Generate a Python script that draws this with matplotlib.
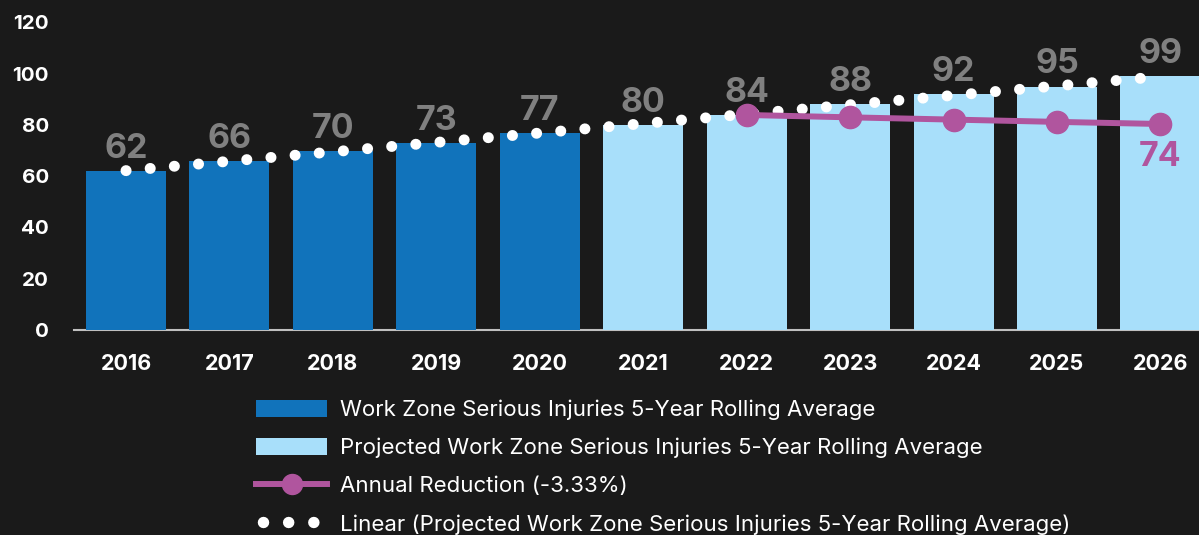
#!/usr/bin/env python3
"""Work zone serious injuries: 5-year rolling average with projection and reduction target."""

import matplotlib
matplotlib.use("Agg")
import matplotlib.pyplot as plt
from matplotlib.lines import Line2D
from matplotlib.patches import Patch
import numpy as np

plt.rcParams["font.family"] = ["Inter", "DejaVu Sans"]

years = ["2016", "2017", "2018", "2019", "2020", "2021", "2022", "2023", "2024", "2025", "2026"]
rolling_avg = [62, 66, 70, 73, 77, 80, 84, 88, 92, 95, 99]
n_actual = 5  # 2016-2020 observed, rest projected

reduction_years = ["2022", "2023", "2024", "2025", "2026"]
reduction_values = [84.4, 81.6, 78.9, 76.2, 73.7]  # -3.33% per year

legend_labels = [
    "Work Zone Serious Injuries 5-Year Rolling Average",
    "Projected Work Zone Serious Injuries 5-Year Rolling Average",
    "Annual Reduction (-3.33%)",
    "Linear (Projected Work Zone Serious Injuries 5-Year Rolling Average)",
]

BG = "#1a1a1a"
COLORS = {
    "actual": "#1173bb",
    "projected": "#a8dffa",
    "reduction": "#b0559e",
    "trend": "#ffffff",
    "value_label": "#808080",
    "axis": "#c0c0c0",
}
DOTS = (0.01, 2.2)  # round-capped dash pattern -> row of dots


def main():
    fig = plt.figure(figsize=(11.99, 5.35), dpi=100, facecolor=BG)
    ax = fig.add_axes([0.0617, 0.3832, 0.9383, 0.5748])
    ax.set_facecolor(BG)

    x = np.arange(len(years))
    bar_colors = [COLORS["actual"] if i < n_actual else COLORS["projected"] for i in x]
    ax.bar(x, rolling_avg, width=0.773, color=bar_colors, zorder=2)

    for xi, v in zip(x, rolling_avg):
        ax.annotate(f"{v}", (xi, v), xytext=(0, 9.4), textcoords="offset points",
                    ha="center", va="baseline", fontsize=24.5, fontweight="bold",
                    color=COLORS["value_label"], zorder=5)

    # linear trendline over all bars, dotted
    slope, intercept = np.polyfit(x, rolling_avg, 1)
    tx = np.array([x[0], x[-1]], dtype=float)
    ax.plot(tx, slope * tx + intercept, color=COLORS["trend"], linewidth=7.9,
            dashes=DOTS, dash_capstyle="round", zorder=3)

    ax.set_xlim(-0.503, 10.373)
    ax.set_ylim(0, 120)
    ax.set_yticks(range(0, 121, 20))
    ax.set_xticks(x)
    ax.set_xticklabels(years)
    ax.tick_params(axis="x", length=0, pad=17, labelsize=15.5, labelcolor="white")
    ax.tick_params(axis="y", length=0, pad=18, labelsize=14.8, labelcolor="white")
    for lbl in ax.get_xticklabels() + ax.get_yticklabels():
        lbl.set_fontweight("bold")
    for side in ("top", "right", "left"):
        ax.spines[side].set_visible(False)
    ax.spines["bottom"].set_color(COLORS["axis"])
    ax.spines["bottom"].set_linewidth(1.5)
    ax.spines["bottom"].set_zorder(1)

    # reduction line lives on its own (hidden) secondary scale
    ax2 = ax.twinx()
    ax2.set_ylim(-170.8, 194.2)
    ax2.axis("off")
    rx = [years.index(y) for y in reduction_years]
    ax2.plot(rx, reduction_values, color=COLORS["reduction"], linewidth=4.3,
             marker="o", markersize=16, zorder=4)
    ax2.annotate(f"{reduction_values[-1]:.0f}", (rx[-1], reduction_values[-1]),
                 xytext=(0, -30), textcoords="offset points", ha="center", va="baseline",
                 fontsize=24.5, fontweight="bold", color=COLORS["reduction"])
    ax2.set_xlim(ax.get_xlim())

    handles = [
        Patch(facecolor=COLORS["actual"]),
        Patch(facecolor=COLORS["projected"]),
        Line2D([], [], color=COLORS["reduction"], linewidth=4.3, marker="o", markersize=14.4),
        Line2D([], [], color=COLORS["trend"], linewidth=8.2, linestyle=(1.6, DOTS),
               dash_capstyle="round"),
    ]
    fig.legend(handles, legend_labels, loc="upper left", bbox_to_anchor=(0.2135, 0.253),
               frameon=False, fontsize=16, labelcolor="white", handlelength=3.2,
               handleheight=0.77, handletextpad=0.59, labelspacing=0.80, borderpad=0,
               borderaxespad=0)

    fig.savefig("out.png", dpi=100, facecolor=BG)
    plt.close(fig)


if __name__ == "__main__":
    main()
